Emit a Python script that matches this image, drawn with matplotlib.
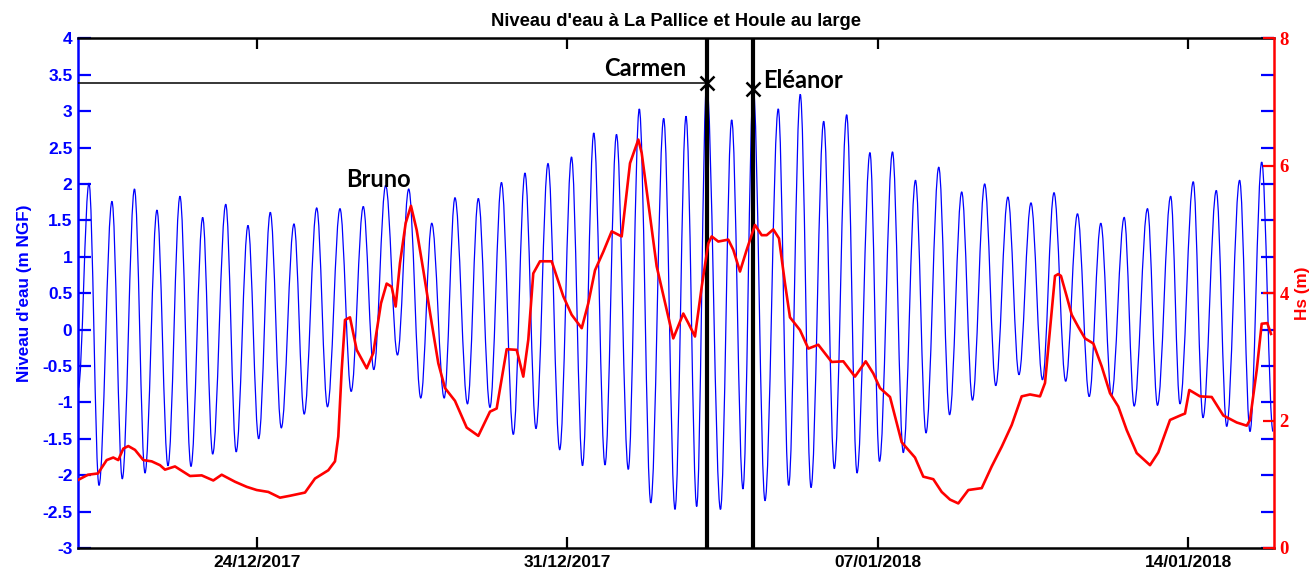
import matplotlib
matplotlib.use("Agg")
import matplotlib.pyplot as plt
import matplotlib.dates as mdates
from matplotlib.ticker import FixedLocator, FuncFormatter
from matplotlib.path import Path
from matplotlib.patches import PathPatch
import numpy as np
from datetime import datetime

# Time origin: all times below are in days since 20/12/2017 00:00
t0 = datetime(2017, 12, 20)

# Water level at La Pallice (m NGF): successive high / low waters
tide_days = [-0.02, 0.22, 0.445, 0.738, 0.970, 1.245, 1.482, 1.752, 2.000, 2.271,
             2.519, 2.783, 3.008, 3.303, 3.538, 3.804, 4.045, 4.307, 4.555, 4.841,
             5.071, 5.353, 5.596, 5.878, 6.130, 6.403, 6.640, 6.908, 7.174, 7.427,
             7.699, 7.947, 8.227, 8.470, 8.752, 8.996, 9.259, 9.518, 9.785, 10.048,
             10.296, 10.567, 10.831, 11.097, 11.345, 11.599, 11.852, 12.111, 12.377, 12.625,
             12.884, 13.175, 13.430, 13.678, 13.919, 14.144, 14.455, 14.708, 14.962, 15.195,
             15.459, 15.758, 15.993, 16.254, 16.496, 16.782, 17.021, 17.300, 17.533, 17.825,
             18.040, 18.333, 18.576, 18.851, 19.088, 19.376, 19.620, 19.893, 20.136, 20.411,
             20.661, 20.934, 21.184, 21.455, 21.714, 21.974, 22.237, 22.503, 22.767, 23.029,
             23.270, 23.556, 23.781, 24.081, 24.306, 24.604, 24.813, 25.113, 25.332, 25.632,
             25.867, 26.158, 26.392, 26.656, 26.911]
tide_level = [-0.80, 2.01, -2.14, 1.76, -2.05, 1.93, -1.97, 1.64, -1.87, 1.83,
              -1.88, 1.54, -1.71, 1.72, -1.68, 1.43, -1.50, 1.61, -1.35, 1.45,
              -1.16, 1.67, -1.06, 1.66, -0.85, 1.69, -0.55, 1.98, -0.35, 1.93,
              -0.94, 1.46, -0.94, 1.81, -1.02, 1.80, -1.07, 2.02, -1.44, 2.15,
              -1.36, 2.28, -1.65, 2.37, -1.87, 2.70, -1.86, 2.68, -1.92, 3.03,
              -2.38, 2.90, -2.47, 2.93, -2.43, 3.38, -2.47, 2.88, -2.19, 3.30,
              -2.35, 3.03, -2.14, 3.23, -2.17, 2.86, -1.91, 2.95, -1.97, 2.43,
              -1.81, 2.44, -1.69, 2.05, -1.42, 2.23, -1.17, 1.89, -0.97, 2.00,
              -0.77, 1.82, -0.62, 1.74, -0.69, 1.88, -0.71, 1.59, -0.92, 1.46,
              -0.91, 1.54, -1.05, 1.66, -1.04, 1.83, -1.02, 2.03, -1.21, 1.91,
              -1.33, 2.05, -1.40, 2.30, -1.40]

# Offshore significant wave height Hs (m)
hs_days = [-0.02, 0.197, 0.422, 0.619, 0.767, 0.880, 0.993, 1.106, 1.257, 1.444,
           1.633, 1.820, 1.933, 2.158, 2.497, 2.760, 3.022, 3.211, 3.511, 3.775,
           4.000, 4.262, 4.525, 4.751, 5.089, 5.314, 5.614, 5.765, 5.840, 5.916,
           5.991, 6.103, 6.254, 6.480, 6.628, 6.802, 6.930, 7.043, 7.133, 7.230,
           7.359, 7.478, 7.607, 7.756, 7.945, 8.094, 8.245, 8.470, 8.734, 8.996,
           9.259, 9.410, 9.636, 9.861, 10.010, 10.123, 10.235, 10.386, 10.650, 10.912,
           11.101, 11.327, 11.475, 11.627, 11.814, 12.003, 12.228, 12.416, 12.603, 12.679,
           12.828, 13.017, 13.243, 13.391, 13.617, 13.730, 13.880, 14.032, 14.180, 14.257,
           14.406, 14.631, 14.744, 14.895, 15.046, 15.233, 15.384, 15.497, 15.646, 15.774,
           15.910, 16.022, 16.248, 16.435, 16.660, 16.962, 17.224, 17.487, 17.729, 17.900,
           18.051, 18.277, 18.540, 18.840, 19.027, 19.253, 19.442, 19.629, 19.816, 20.042,
           20.344, 20.569, 20.795, 21.020, 21.245, 21.433, 21.658, 21.771, 21.884, 21.996,
           22.071, 22.131, 22.260, 22.373, 22.521, 22.672, 22.860, 23.049, 23.236, 23.423,
           23.613, 23.838, 24.138, 24.325, 24.589, 24.853, 24.927, 25.024, 25.265, 25.529,
           25.790, 26.093, 26.318, 26.392, 26.543, 26.656, 26.782, 26.865]
hs_m = [1.07, 1.15, 1.17, 1.38, 1.42, 1.38, 1.56, 1.60, 1.54, 1.38,
        1.36, 1.30, 1.23, 1.28, 1.13, 1.14, 1.06, 1.15, 1.04, 0.96,
        0.91, 0.88, 0.79, 0.82, 0.87, 1.09, 1.22, 1.36, 1.75, 2.79,
        3.58, 3.62, 3.11, 2.82, 3.06, 3.84, 4.15, 4.10, 3.79, 4.47,
        5.10, 5.37, 4.99, 4.36, 3.53, 2.90, 2.51, 2.31, 1.89, 1.76,
        2.14, 2.19, 3.12, 3.11, 2.69, 3.27, 4.31, 4.50, 4.50, 3.95,
        3.66, 3.45, 3.84, 4.36, 4.65, 4.97, 4.89, 6.04, 6.41, 6.20,
        5.41, 4.42, 3.74, 3.29, 3.68, 3.53, 3.32, 4.10, 4.78, 4.89,
        4.81, 4.84, 4.68, 4.34, 4.68, 5.07, 4.91, 4.91, 5.00, 4.86,
        4.15, 3.62, 3.42, 3.13, 3.19, 2.92, 2.93, 2.69, 2.93, 2.74,
        2.51, 2.37, 1.66, 1.42, 1.12, 1.08, 0.88, 0.76, 0.70, 0.91,
        0.94, 1.28, 1.59, 1.93, 2.38, 2.41, 2.38, 2.59, 3.44, 4.27,
        4.30, 4.27, 3.95, 3.66, 3.47, 3.29, 3.21, 2.85, 2.43, 2.22,
        1.85, 1.49, 1.30, 1.50, 2.01, 2.09, 2.11, 2.48, 2.38, 2.37,
        2.08, 1.97, 1.92, 2.01, 2.79, 3.52, 3.53, 3.36]

# Storm peaks marked on the water level
storm_names = ["Carmen", "Eléanor"]
storm_days = [14.144, 15.195]
storm_levels = [3.38, 3.30]

# Axis settings
level_ticks = np.arange(-3.0, 4.01, 0.5)
hs_ticks = [0, 2, 4, 6, 8]
date_ticks = [datetime(2017, 12, 24), datetime(2017, 12, 31),
              datetime(2018, 1, 7), datetime(2018, 1, 14)]
day_range = (-0.028, 26.933)

BLUE = (0, 0, 1)
RED = (1, 0, 0)
SANS = "Liberation Sans"

base = mdates.date2num(t0)
tx = base + np.asarray(tide_days)
ty = np.asarray(tide_level)
hx = base + np.asarray(hs_days)
sx = base + np.asarray(storm_days)

W, H = 1313, 572
fig = plt.figure(figsize=(W / 100, H / 100), dpi=100)
L, R, T, B = 78, 1274, 38.3, 548
ax = fig.add_axes([L / W, 1 - B / H, (R - L) / W, (B - T) / H])
ax2 = ax.twinx()

# Water level (left axis): smooth tidal curve through each high and low water,
# flat at every turning point
verts = [(tx[0], ty[0])]
codes = [Path.MOVETO]
k = 0.36
for i in range(len(tx) - 1):
    dx = tx[i + 1] - tx[i]
    verts += [(tx[i] + k * dx, ty[i]), (tx[i + 1] - k * dx, ty[i + 1]),
              (tx[i + 1], ty[i + 1])]
    codes += [Path.CURVE4] * 3
ax.add_patch(PathPatch(Path(verts, codes), fill=False, edgecolor=BLUE,
                       lw=0.9, zorder=2))

# Storm markers
for xs, lv in zip(sx, storm_levels):
    ax.axvline(xs, color="black", lw=3.0, zorder=3)
    ax.plot([xs], [lv], marker="x", ms=10, mew=1.8, color="black", zorder=4)
ax.hlines(storm_levels[0], base + day_range[0], sx[0], color="black", lw=1.1, zorder=3)

ax.text(base + 12.753, 3.478, storm_names[0], ha="center", va="baseline",
        fontsize=17, fontweight="bold", family="Lato", zorder=5)
ax.text(base + 15.413, 3.313, storm_names[1], ha="left", va="baseline",
        fontsize=17, fontweight="bold", family="Lato", zorder=5)
ax.text(base + 6.734, 1.951, "Bruno", ha="center", va="baseline",
        fontsize=17, fontweight="bold", family="Lato", zorder=5)

ax.set_xlim(base + day_range[0], base + day_range[1])
ax.set_ylim(-3, 4)
ax.yaxis.set_major_locator(FixedLocator(level_ticks))
ax.yaxis.set_major_formatter(FuncFormatter(lambda v, p: f"{v:g}"))
ax.xaxis.set_major_locator(FixedLocator(mdates.date2num(date_ticks)))
ax.xaxis.set_major_formatter(mdates.DateFormatter("%d/%m/%Y"))

ax.tick_params(axis="y", direction="in", length=9.5, width=1.6, colors=BLUE,
               left=True, right=True, labelright=False, pad=4)
ax.tick_params(axis="x", direction="in", length=8, width=1.6, colors="black",
               top=True, bottom=True, pad=5)
for lab in ax.get_yticklabels():
    lab.set_fontfamily(SANS); lab.set_fontweight("bold"); lab.set_fontsize(12.5)
    lab.set_color(BLUE)
for lab in ax.get_xticklabels():
    lab.set_fontfamily(SANS); lab.set_fontweight("bold"); lab.set_fontsize(12.5)

ax.set_ylabel("Niveau d'eau (m NGF)", color=BLUE, fontsize=12.3,
              fontweight="bold", family=SANS, va="center")
ax.yaxis.set_label_coords((25 - L) / (R - L), 0.5)

ax.set_title("Niveau d'eau à La Pallice et Houle au large", fontsize=13.2,
             fontweight="bold", family=SANS, pad=9)

# Wave height (right axis)
ax2.plot(hx, hs_m, color=RED, lw=1.9, zorder=2)
ax2.set_ylim(0, 8)
ax2.yaxis.set_major_locator(FixedLocator(hs_ticks))
ax2.tick_params(axis="y", direction="in", length=8, width=1.6, colors=RED,
                left=False, right=True, pad=4)
for lab in ax2.get_yticklabels():
    lab.set_fontfamily("Liberation Serif"); lab.set_fontweight("bold")
    lab.set_fontsize(13.5); lab.set_color(RED)
ax2.set_ylabel("Hs (m)", color=RED, fontsize=12.3, fontweight="bold",
               family=SANS, va="center", rotation=90)
ax2.yaxis.set_label_coords((1303 - L) / (R - L), 0.5)

# Frame colours
for a in (ax, ax2):
    a.spines["top"].set_color("black")
    a.spines["bottom"].set_color("black")
    for s in a.spines.values():
        s.set_linewidth(1.8)
ax.spines["left"].set_color(BLUE)
ax.spines["right"].set_visible(False)
ax2.spines["left"].set_visible(False)
ax2.spines["top"].set_visible(False)
ax2.spines["bottom"].set_visible(False)
ax2.spines["right"].set_color(RED)
ax2.patch.set_visible(False)

fig.savefig("out.png", dpi=100)
